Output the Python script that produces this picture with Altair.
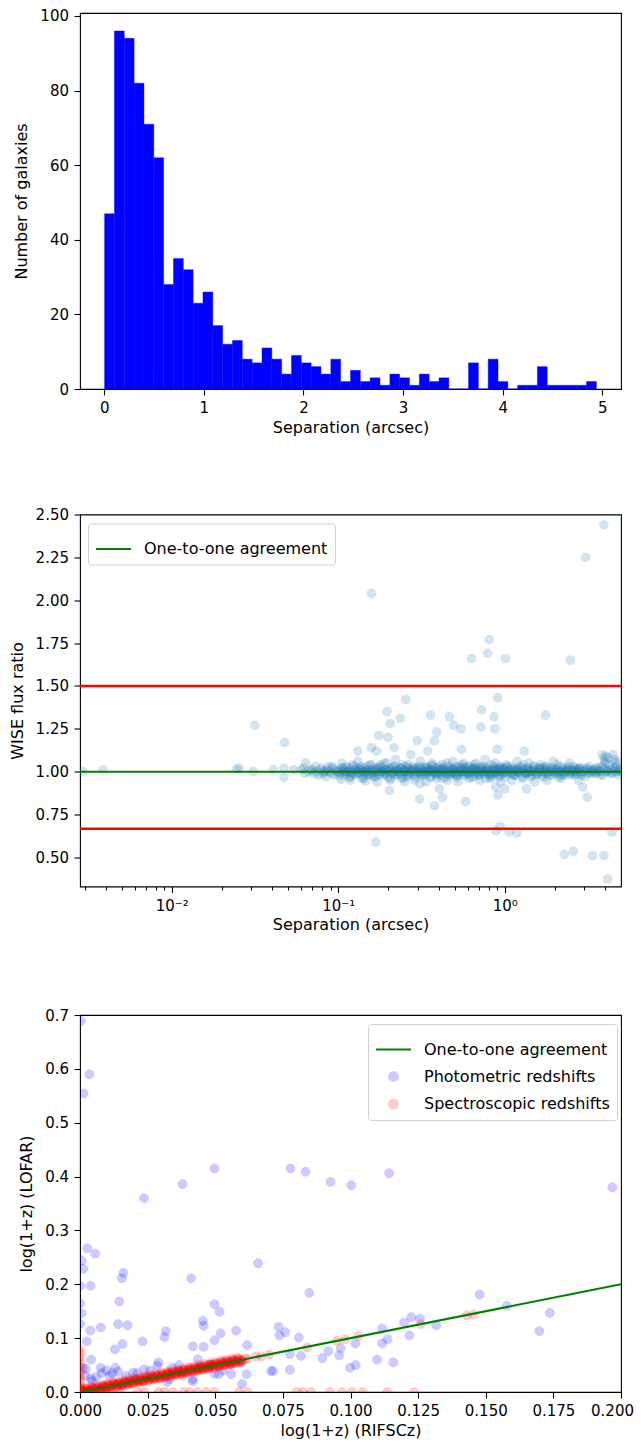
import altair as alt
import pandas as pd

FONT = "DejaVu Sans"

# ---------------- Panel 1: histogram of separations ----------------
hist_counts = [47, 96, 94, 82, 71, 62, 28, 35, 32, 23,
               26, 17, 12, 13, 8, 7, 11, 8, 4, 9,
               7, 6, 4, 8, 2, 5, 2, 3, 1, 4,
               3, 1, 4, 2, 3, 0, 0, 7, 0, 8,
               2, 0, 1, 1, 6, 1, 1, 1, 1, 2]
hist_lo = 0.004
hist_hi = 4.94
hist_xticks = [0, 1, 2, 3, 4, 5]
hist_yticks = [0, 20, 40, 60, 80, 100]

# ---------------- Panel 2: WISE flux ratio vs separation ----------------
band_a_sep = [0.062, 0.066, 0.069, 0.071, 0.073, 0.074, 0.076, 0.078, 0.079, 0.081,
              0.083, 0.084, 0.086, 0.087, 0.089, 0.091, 0.092, 0.094, 0.096, 0.098]
band_a_ratio = [1.02, 1.00, 1.01, 0.99, 1.03, 1.00, 0.98, 1.01, 1.02, 0.99,
                1.00, 0.97, 1.01, 1.03, 1.00, 0.99, 1.02, 0.98, 1.01, 1.00]
band_b_sep = [0.100, 0.102, 0.103, 0.105, 0.106, 0.108, 0.109, 0.111, 0.112, 0.114,
              0.115, 0.117, 0.119, 0.120, 0.122, 0.124, 0.126, 0.127, 0.129, 0.131,
              0.133, 0.135, 0.137, 0.139, 0.141, 0.143, 0.146, 0.148, 0.150, 0.152,
              0.155, 0.157, 0.160, 0.162, 0.165, 0.167, 0.170, 0.173, 0.175, 0.178,
              0.181, 0.184, 0.187, 0.190, 0.193, 0.196, 0.199, 0.203, 0.206, 0.209,
              0.213, 0.217, 0.220, 0.224, 0.228, 0.232, 0.236, 0.240, 0.244, 0.248,
              0.252, 0.257, 0.261, 0.266, 0.270, 0.275, 0.280, 0.284, 0.289, 0.295]
band_b_ratio = [1.00, 1.01, 0.99, 1.02, 1.00, 0.98, 1.01, 1.03, 0.99, 1.00,
                1.02, 0.97, 1.01, 1.00, 1.04, 0.99, 1.01, 0.98, 1.02, 1.00,
                0.99, 1.01, 1.03, 0.96, 1.00, 1.02, 0.99, 1.01, 1.00, 0.98,
                1.01, 1.04, 0.99, 1.00, 1.02, 0.97, 1.01, 1.00, 0.99, 1.03,
                1.00, 1.02, 0.98, 1.01, 0.99, 1.05, 1.00, 1.01, 0.96, 1.02,
                0.99, 1.00, 1.03, 1.01, 0.98, 1.00, 1.02, 0.99, 1.04, 1.01,
                1.00, 0.97, 1.02, 1.00, 0.99, 1.01, 1.03, 0.98, 1.00, 1.02]
band_c_sep = [0.300, 0.304, 0.309, 0.313, 0.318, 0.322, 0.327, 0.332, 0.337, 0.341,
              0.346, 0.351, 0.357, 0.362, 0.367, 0.372, 0.378, 0.383, 0.389, 0.395,
              0.400, 0.406, 0.412, 0.418, 0.425, 0.431, 0.437, 0.444, 0.450, 0.457,
              0.464, 0.471, 0.478, 0.485, 0.492, 0.499, 0.507, 0.514, 0.522, 0.530,
              0.538, 0.546, 0.554, 0.562, 0.571, 0.579, 0.588, 0.597, 0.606, 0.615,
              0.624, 0.633, 0.643, 0.652, 0.662, 0.672, 0.682, 0.692, 0.702, 0.713,
              0.724, 0.734, 0.745, 0.757, 0.768, 0.779, 0.791, 0.803, 0.815, 0.827,
              0.840, 0.852, 0.865, 0.878, 0.891, 0.905, 0.918, 0.932, 0.946, 0.960,
              0.975, 0.989, 0.352, 0.418, 0.497, 0.561, 0.648, 0.731, 0.822, 0.915]
band_c_ratio = [1.01, 0.99, 1.00, 1.02, 0.98, 1.01, 1.00, 1.03, 0.99, 1.00,
                1.02, 1.00, 0.97, 1.01, 1.04, 0.99, 1.00, 1.02, 0.98, 1.01,
                1.00, 1.03, 0.99, 1.01, 0.96, 1.00, 1.02, 0.99, 1.05, 1.01,
                1.00, 0.98, 1.02, 1.00, 1.01, 0.99, 1.03, 0.97, 1.00, 1.02,
                0.99, 1.01, 1.04, 1.00, 0.98, 1.02, 1.00, 0.99, 1.01, 1.03,
                0.97, 1.00, 1.02, 0.99, 1.01, 1.05, 1.00, 0.98, 1.02, 1.00,
                1.01, 0.99, 1.03, 1.00, 0.96, 1.02, 1.01, 0.99, 1.00, 1.04,
                0.98, 1.01, 1.00, 1.02, 0.99, 1.01, 0.97, 1.03, 1.00, 1.01,
                0.99, 1.02, 1.00, 1.01, 0.99, 1.00, 1.02, 1.00, 0.99, 1.01]
band_d_sep = [1.00, 1.02, 1.04, 1.06, 1.09, 1.11, 1.13, 1.16, 1.18, 1.21,
              1.23, 1.26, 1.29, 1.31, 1.34, 1.37, 1.40, 1.43, 1.46, 1.49,
              1.52, 1.56, 1.59, 1.63, 1.66, 1.70, 1.74, 1.77, 1.81, 1.85,
              1.89, 1.94, 1.98, 2.02, 2.07, 2.11, 2.16, 2.21, 2.26, 2.31,
              2.36, 2.41, 2.47, 2.52, 2.58, 2.64, 2.70, 2.76, 2.82, 2.88,
              2.95, 3.01, 3.08, 3.15, 3.22, 3.29, 3.37, 3.44, 3.52, 3.60,
              3.68, 3.76, 3.85, 3.93, 4.02, 4.11, 4.20, 4.30, 4.39, 4.49,
              4.59, 4.70, 4.80, 4.90, 1.12, 1.38, 1.71, 2.12, 2.63, 3.95]
band_d_ratio = [1.00, 1.02, 0.99, 1.01, 1.03, 1.00, 0.98, 1.01, 1.00, 1.02,
                0.99, 1.01, 1.04, 1.00, 0.99, 1.02, 1.00, 0.97, 1.01, 1.03,
                1.00, 0.99, 1.02, 1.01, 0.98, 1.00, 1.03, 0.99, 1.01, 1.00,
                1.02, 0.98, 1.00, 1.01, 1.04, 0.99, 1.00, 1.02, 0.99, 1.01,
                1.00, 1.03, 0.98, 1.01, 1.00, 1.02, 0.99, 1.01, 1.00, 0.98,
                1.02, 1.00, 1.01, 0.99, 1.03, 1.00, 1.01, 0.99, 1.02, 1.00,
                1.01, 0.98, 1.00, 1.02, 1.05, 1.00, 1.08, 1.01, 0.99, 1.10,
                1.02, 1.00, 1.06, 1.01, 1.01, 0.99, 1.02, 1.00, 1.01, 1.08]
band_e_sep = [0.101, 0.107, 0.113, 0.118, 0.123, 0.128, 0.132, 0.136, 0.140, 0.145,
              0.149, 0.153, 0.158, 0.163, 0.168, 0.171, 0.176, 0.180, 0.185, 0.189,
              0.194, 0.198, 0.204, 0.208, 0.214, 0.219, 0.225, 0.231, 0.237, 0.242,
              0.249, 0.255, 0.262, 0.268, 0.276, 0.283, 0.291, 0.298, 0.306, 0.315,
              0.323, 0.332, 0.341, 0.350, 0.360, 0.369, 0.380, 0.390, 0.401, 0.412,
              0.423, 0.435, 0.447, 0.459, 0.471, 0.484, 0.497, 0.510, 0.524, 0.539]
band_e_ratio = [0.98, 1.02, 1.00, 0.97, 1.03, 1.01, 0.99, 1.02, 0.98, 1.00,
                1.03, 0.99, 1.01, 0.97, 1.00, 1.02, 0.98, 1.04, 1.00, 0.99,
                1.01, 0.97, 1.02, 1.00, 1.03, 0.98, 1.01, 0.99, 1.02, 0.97,
                1.00, 1.03, 0.98, 1.01, 1.00, 1.02, 0.97, 1.01, 1.03, 0.99,
                1.00, 0.98, 1.02, 1.01, 0.97, 1.03, 1.00, 0.99, 1.02, 0.98,
                1.01, 1.00, 0.97, 1.03, 0.99, 1.01, 1.02, 0.98, 1.00, 1.03]
band_f_sep = [0.553, 0.567, 0.582, 0.598, 0.613, 0.629, 0.646, 0.663, 0.681, 0.699,
              0.717, 0.736, 0.756, 0.776, 0.796, 0.817, 0.839, 0.861, 0.884, 0.908,
              0.932, 0.956, 0.982, 1.008, 1.035, 1.062, 1.090, 1.119, 1.149, 1.180,
              1.211, 1.243, 1.276, 1.310, 1.345, 1.381, 1.417, 1.455, 1.494, 1.534,
              1.575, 1.617, 1.660, 1.704, 1.749, 1.796, 1.844, 1.893, 1.943, 1.995,
              2.048, 2.103, 2.159, 2.216, 2.275, 2.336, 2.398, 2.462, 2.528, 2.595,
              2.664, 2.735, 2.808, 2.883, 2.960, 3.039, 3.120, 3.203, 3.288, 3.376]
band_f_ratio = [1.02, 0.98, 1.00, 1.03, 0.99, 1.01, 0.97, 1.02, 1.00, 0.98,
                1.03, 1.01, 0.99, 1.00, 1.02, 0.97, 1.01, 1.03, 0.99, 1.00,
                0.98, 1.02, 1.01, 0.97, 1.03, 1.00, 0.99, 1.02, 0.98, 1.01,
                1.00, 1.03, 0.97, 1.01, 0.99, 1.02, 1.00, 0.98, 1.03, 1.01,
                0.99, 1.00, 1.02, 0.97, 1.01, 1.03, 0.98, 1.00, 1.02, 0.99,
                1.01, 0.97, 1.03, 1.00, 0.98, 1.02, 1.01, 0.99, 1.00, 1.03,
                0.98, 1.01, 1.02, 0.99, 1.00, 0.97, 1.02, 1.01, 0.99, 1.00]
band_g_sep = [3.45, 3.53, 3.62, 3.71, 3.80, 3.89, 3.98, 4.07, 4.16, 4.25,
              4.34, 4.43, 4.52, 4.61, 4.70, 4.79, 4.88, 4.95, 4.05, 4.62]
band_g_ratio = [1.01, 0.99, 1.02, 1.00, 1.03, 0.98, 1.06, 1.01, 1.00, 1.04,
                0.99, 1.02, 1.07, 1.00, 1.03, 0.98, 1.01, 1.00, 1.09, 1.05]
band_h_sep = [0.105, 0.118, 0.131, 0.142, 0.155, 0.171, 0.188, 0.205, 0.221, 0.243,
              0.262, 0.287, 0.311, 0.336, 0.364, 0.392, 0.421, 0.452, 0.488, 0.523,
              0.566, 0.612, 0.655, 0.707, 0.762, 0.818, 0.877, 0.943, 1.02, 1.10,
              1.19, 1.28, 1.39, 1.51, 1.64, 1.79, 1.96, 2.18, 2.45, 2.77]
band_h_ratio = [1.05, 0.95, 1.06, 0.96, 1.04, 0.94, 1.05, 0.95, 1.07, 0.96,
                1.04, 0.95, 1.06, 0.94, 1.05, 0.96, 1.04, 0.95, 1.06, 0.94,
                1.05, 0.96, 1.04, 0.95, 1.07, 0.96, 1.05, 0.94, 1.04, 0.95,
                1.06, 0.96, 1.05, 0.94, 1.04, 0.95, 1.06, 0.96, 1.05, 0.95]
band_i_sep = [0.110, 0.121, 0.134, 0.147, 0.161, 0.174, 0.183, 0.196, 0.211, 0.226,
              0.239, 0.253, 0.268, 0.282, 0.297, 0.314, 0.331, 0.348, 0.366, 0.384,
              0.404, 0.426, 0.448, 0.469, 0.493, 0.517, 0.544, 0.571, 0.601, 0.631,
              0.664, 0.697, 0.733, 0.771, 0.809, 0.851, 0.894, 0.939, 0.987, 1.037,
              1.091, 1.146, 1.204, 1.266, 1.330, 1.398, 1.469, 1.545, 1.623, 1.706,
              1.793, 1.885, 1.981, 2.082, 2.189, 2.300, 2.418, 2.541, 2.671, 2.808]
band_i_ratio = [1.00, 0.99, 1.01, 1.00, 0.98, 1.02, 1.00, 1.01, 0.99, 1.00,
                1.02, 1.00, 0.99, 1.01, 1.00, 0.98, 1.02, 1.00, 1.01, 0.99,
                1.00, 1.02, 0.99, 1.00, 1.01, 0.98, 1.00, 1.02, 0.99, 1.01,
                1.00, 0.99, 1.02, 1.00, 0.98, 1.01, 1.00, 1.02, 0.99, 1.00,
                1.01, 0.98, 1.00, 1.02, 0.99, 1.01, 1.00, 0.98, 1.02, 1.00,
                0.99, 1.01, 1.00, 1.02, 0.98, 1.00, 1.01, 0.99, 1.00, 1.02]
outlier_sep = [0.0029, 0.00386, 0.0245, 0.0254, 0.0315, 0.0308, 0.0476, 0.0407, 0.0471, 0.0471,
               0.054, 0.060, 0.0636, 0.063, 0.0697, 0.0818, 0.0918, 0.104,
               0.158, 3.06, 3.93, 0.807, 0.789, 0.632, 1.01, 2.48,
               0.254, 0.196, 0.906, 0.726, 1.76, 0.358, 0.861, 0.465, 0.205, 0.236,
               0.494, 0.546, 0.72, 0.873, 0.391, 0.175, 0.199, 0.298, 0.378, 0.216,
               0.158, 0.131, 0.55, 0.90, 0.345, 1.31, 0.272, 3.84, 0.17,
               0.146, 0.203, 0.308, 0.378, 0.423, 0.581, 0.405, 0.91, 1.0, 1.35,
               2.94, 3.13, 0.25, 0.31, 0.88,
               0.168, 0.885, 0.94, 1.06, 1.18, 4.4, 2.28, 2.58, 3.36, 3.94, 4.15]
outlier_ratio = [1.00, 1.01, 1.015, 1.02, 1.27, 1.00, 1.17, 1.01, 1.02, 0.967,
                 1.01, 1.01, 1.05, 0.99, 1.01, 1.00, 1.03, 0.955,
                 2.04, 2.25, 2.44, 1.77, 1.69, 1.66, 1.66, 1.65,
                 1.42, 1.35, 1.43, 1.36, 1.33, 1.33, 1.32, 1.32, 1.28, 1.31,
                 1.27, 1.25, 1.26, 1.25, 1.23, 1.21, 1.20, 1.18, 1.18, 1.14,
                 1.14, 1.12, 1.13, 1.13, 1.12, 1.12, 1.10, 1.10, 1.12,
                 0.946, 0.89, 0.84, 0.80, 0.85, 0.825, 0.90, 0.864, 0.90, 0.90,
                 0.91, 0.85, 0.94, 0.93, 0.91,
                 0.59, 0.654, 0.68, 0.648, 0.642, 0.648, 0.516, 0.535, 0.51, 0.51, 0.374]
limit_ratios = [1.5, 0.6667]
one_ratio = [1.0]
sep_major_ticks = [0.01, 0.1, 1]
sep_minor_ticks = [0.003, 0.004, 0.005, 0.006, 0.007, 0.008, 0.009,
                   0.02, 0.03, 0.04, 0.05, 0.06, 0.07, 0.08, 0.09,
                   0.2, 0.3, 0.4, 0.5, 0.6, 0.7, 0.8, 0.9,
                   2, 3, 4]
ratio_ticks = [0.5, 0.75, 1.0, 1.25, 1.5, 1.75, 2.0, 2.25, 2.5]

# ---------------- Panel 3: log(1+z) comparison ----------------
phot_x = [0.0003, 0.0035, 0.0013, 0.0237, 0.0379, 0.0497, 0.0778, 0.0834, 0.0926, 0.1003,
          0.1143, 0.1968, 0.0027, 0.0056, 0.0006, 0.0012, 0.0000, 0.0039, 0.0658, 0.0411,
          0.0848, 0.0160, 0.0155, 0.0145, 0.0000, 0.0006, 0.0000, 0.0038, 0.0077, 0.0025,
          0.0141, 0.0176, 0.0129, 0.0157, 0.0231, 0.0317, 0.0312, 0.0454, 0.0457, 0.0497,
          0.0516, 0.0497, 0.0520, 0.0577, 0.0417, 0.0457, 0.0618, 0.0734, 0.0759, 0.0737,
          0.0809, 0.0776, 0.0817, 0.0776, 0.0706, 0.0714, 0.0041, 0.0022, 0.0076, 0.0098,
          0.0141, 0.0120, 0.0196, 0.0237, 0.0290, 0.0286, 0.0365, 0.0436, 0.0417, 0.0417,
          0.0322, 0.0332, 0.0497, 0.0513, 0.0559, 0.0599, 0.0616, 0.0590, 0.0040, 0.0045,
          0.0010, 0.0020, 0.0060, 0.0080, 0.0110, 0.0130, 0.0170, 0.0210, 0.0260, 0.0340,
          0.0380, 0.0440, 0.0480, 0.0530, 0.0560, 0.1477, 0.1578, 0.1737, 0.1698, 0.1317,
          0.1225, 0.1198, 0.1257, 0.1218, 0.1117, 0.1137, 0.1117, 0.1098, 0.1158, 0.1018,
          0.0964, 0.0918, 0.0958, 0.0896, 0.0998, 0.1019]
phot_y = [0.689, 0.590, 0.554, 0.360, 0.386, 0.415, 0.415, 0.409, 0.390, 0.384,
          0.406, 0.380, 0.267, 0.257, 0.244, 0.229, 0.197, 0.197, 0.239, 0.211,
          0.184, 0.221, 0.211, 0.168, 0.165, 0.146, 0.126, 0.114, 0.120, 0.094,
          0.126, 0.124, 0.079, 0.089, 0.094, 0.113, 0.102, 0.132, 0.123, 0.163,
          0.149, 0.096, 0.109, 0.114, 0.085, 0.084, 0.087, 0.121, 0.111, 0.105,
          0.101, 0.070, 0.067, 0.041, 0.039, 0.039, 0.060, 0.043, 0.045, 0.040,
          0.038, 0.035, 0.036, 0.042, 0.055, 0.049, 0.050, 0.061, 0.024, 0.020,
          0.019, 0.024, 0.034, 0.033, 0.033, 0.015, 0.033, 0.055, 0.025, 0.020,
          0.045, 0.030, 0.028, 0.035, 0.030, 0.045, 0.030, 0.035, 0.040, 0.045,
          0.030, 0.045, 0.050, 0.040, 0.050, 0.181, 0.160, 0.147, 0.113, 0.124,
          0.139, 0.129, 0.136, 0.105, 0.118, 0.098, 0.090, 0.060, 0.055, 0.090,
          0.081, 0.076, 0.068, 0.063, 0.045, 0.050]
spec_line_x = [0.000, 0.001, 0.001, 0.002, 0.002, 0.003, 0.004, 0.004, 0.005, 0.006,
               0.006, 0.007, 0.008, 0.008, 0.009, 0.010, 0.010, 0.011, 0.012, 0.012,
               0.013, 0.014, 0.014, 0.015, 0.016, 0.016, 0.017, 0.018, 0.018, 0.019,
               0.020, 0.020, 0.021, 0.022, 0.022, 0.023, 0.024, 0.024, 0.025, 0.026,
               0.026, 0.027, 0.028, 0.028, 0.029, 0.030, 0.030, 0.031, 0.032, 0.032,
               0.033, 0.034, 0.034, 0.035, 0.036, 0.036, 0.037, 0.038, 0.038, 0.039,
               0.040, 0.040, 0.041, 0.042, 0.042, 0.043, 0.044, 0.044, 0.045, 0.046,
               0.046, 0.047, 0.048, 0.048, 0.049, 0.050, 0.050, 0.051, 0.052, 0.052,
               0.053, 0.054, 0.054, 0.055, 0.056, 0.056, 0.057, 0.058, 0.059, 0.060,
               0.061, 0.062, 0.065, 0.067, 0.070, 0.084, 0.095, 0.098, 0.103, 0.126,
               0.143, 0.1455]
spec_line_y = [0.003, 0.000, 0.004, 0.002, 0.006, 0.001, 0.005, 0.003, 0.007, 0.004,
               0.008, 0.005, 0.010, 0.006, 0.011, 0.008, 0.012, 0.009, 0.014, 0.010,
               0.015, 0.012, 0.016, 0.013, 0.018, 0.014, 0.019, 0.016, 0.020, 0.017,
               0.022, 0.018, 0.023, 0.020, 0.024, 0.021, 0.026, 0.022, 0.027, 0.024,
               0.028, 0.025, 0.030, 0.026, 0.031, 0.028, 0.032, 0.029, 0.034, 0.030,
               0.035, 0.032, 0.036, 0.033, 0.038, 0.034, 0.039, 0.036, 0.040, 0.037,
               0.042, 0.038, 0.043, 0.040, 0.044, 0.041, 0.046, 0.042, 0.047, 0.044,
               0.048, 0.045, 0.050, 0.046, 0.051, 0.048, 0.052, 0.049, 0.054, 0.050,
               0.055, 0.052, 0.056, 0.053, 0.058, 0.054, 0.059, 0.056, 0.060, 0.058,
               0.062, 0.061, 0.066, 0.066, 0.070, 0.083, 0.095, 0.098, 0.104, 0.126,
               0.142, 0.144]
spec_line2_x = [0.0005, 0.0015, 0.0025, 0.0035, 0.0045, 0.0055, 0.0065, 0.0075, 0.0085, 0.0095,
                0.0105, 0.0115, 0.0125, 0.0135, 0.0145, 0.0155, 0.0165, 0.0175, 0.0185, 0.0195,
                0.0205, 0.0215, 0.0225, 0.0235, 0.0245, 0.0255, 0.0265, 0.0275, 0.0285, 0.0295,
                0.0305, 0.0315, 0.0325, 0.0335, 0.0345, 0.0355, 0.0365, 0.0375, 0.0385, 0.0395,
                0.0405, 0.0415, 0.0425, 0.0435, 0.0445, 0.0455, 0.0465, 0.0475, 0.0485, 0.0495,
                0.0505, 0.0515, 0.0525, 0.0535, 0.0545, 0.0555, 0.0565, 0.0575, 0.0585, 0.0595]
spec_line2_y = [0.004, 0.000, 0.006, 0.001, 0.008, 0.003, 0.009, 0.004, 0.011, 0.006,
                0.013, 0.008, 0.015, 0.010, 0.017, 0.012, 0.019, 0.014, 0.021, 0.016,
                0.023, 0.018, 0.025, 0.020, 0.027, 0.022, 0.029, 0.024, 0.031, 0.026,
                0.033, 0.028, 0.035, 0.030, 0.037, 0.032, 0.039, 0.034, 0.041, 0.036,
                0.043, 0.038, 0.045, 0.040, 0.047, 0.042, 0.049, 0.044, 0.051, 0.046,
                0.053, 0.048, 0.055, 0.050, 0.057, 0.052, 0.059, 0.054, 0.061, 0.056]
spec_line3_x = [0.0002, 0.0012, 0.0022, 0.0032, 0.0042, 0.0052, 0.0062, 0.0072, 0.0082, 0.0092,
                0.0102, 0.0112, 0.0122, 0.0132, 0.0142, 0.0152, 0.0162, 0.0172, 0.0182, 0.0192,
                0.0202, 0.0212, 0.0222, 0.0232, 0.0242, 0.0252, 0.0262, 0.0272, 0.0282, 0.0292,
                0.0302, 0.0312, 0.0322, 0.0332, 0.0342, 0.0352, 0.0362, 0.0372, 0.0382, 0.0392,
                0.0402, 0.0412, 0.0422, 0.0432, 0.0442, 0.0452, 0.0462, 0.0472, 0.0482, 0.0492,
                0.0502, 0.0512, 0.0522, 0.0532, 0.0542, 0.0552, 0.0562, 0.0572, 0.0582, 0.0592]
spec_line3_y = [0.006, 0.000, 0.008, 0.000, 0.010, 0.001, 0.012, 0.003, 0.014, 0.005,
                0.016, 0.007, 0.018, 0.009, 0.020, 0.011, 0.022, 0.013, 0.024, 0.015,
                0.026, 0.017, 0.028, 0.019, 0.030, 0.021, 0.032, 0.023, 0.034, 0.025,
                0.036, 0.027, 0.038, 0.029, 0.040, 0.031, 0.042, 0.033, 0.044, 0.035,
                0.046, 0.037, 0.048, 0.039, 0.050, 0.041, 0.052, 0.043, 0.054, 0.045,
                0.056, 0.047, 0.058, 0.049, 0.060, 0.051, 0.062, 0.053, 0.064, 0.055]
spec_line4_x = [0.0008, 0.0018, 0.0028, 0.0038, 0.0048, 0.0058, 0.0068, 0.0078, 0.0088, 0.0098,
                0.0108, 0.0118, 0.0128, 0.0138, 0.0148, 0.0158, 0.0168, 0.0178, 0.0188, 0.0198,
                0.0208, 0.0218, 0.0228, 0.0238, 0.0248, 0.0258, 0.0268, 0.0278, 0.0288, 0.0298,
                0.0308, 0.0318, 0.0328, 0.0338, 0.0348, 0.0358, 0.0368, 0.0378, 0.0388, 0.0398,
                0.0408, 0.0418, 0.0428, 0.0438, 0.0448, 0.0458, 0.0468, 0.0478, 0.0488, 0.0498,
                0.0508, 0.0518, 0.0528, 0.0538, 0.0548, 0.0558, 0.0568, 0.0578, 0.0588, 0.0598]
spec_line4_y = [0.002, 0.001, 0.004, 0.003, 0.006, 0.005, 0.008, 0.007, 0.010, 0.009,
                0.012, 0.011, 0.014, 0.013, 0.016, 0.015, 0.018, 0.017, 0.020, 0.019,
                0.022, 0.021, 0.024, 0.023, 0.026, 0.025, 0.028, 0.027, 0.030, 0.029,
                0.032, 0.031, 0.034, 0.033, 0.036, 0.035, 0.038, 0.037, 0.040, 0.039,
                0.042, 0.041, 0.044, 0.043, 0.046, 0.045, 0.048, 0.047, 0.050, 0.049,
                0.052, 0.051, 0.054, 0.053, 0.056, 0.055, 0.058, 0.057, 0.060, 0.059]
spec_zero_x_y = [0.079, 0.072, 0.064, 0.055, 0.047, 0.039, 0.031, 0.024, 0.017, 0.011, 0.005]
spec_zero_y_x = [0.0032, 0.0085, 0.0147, 0.0214, 0.0238, 0.0291, 0.0313, 0.0344, 0.0383, 0.0405,
                 0.0434, 0.0466, 0.0497, 0.0588, 0.0619, 0.0801, 0.0824, 0.0854, 0.0923, 0.0969,
                 0.1005, 0.1045, 0.1136, 0.1235]
one_to_one = [0.0, 0.2]
z_xticks = [0.0, 0.025, 0.05, 0.075, 0.1, 0.125, 0.15, 0.175, 0.2]
z_yticks = [0.0, 0.1, 0.2, 0.3, 0.4, 0.5, 0.6, 0.7]

ONE = "One-to-one agreement"
PHOT = "Photometric redshifts"
SPEC = "Spectroscopic redshifts"
KINDS = [ONE, PHOT, SPEC]
W = 541

# ---------------- build panel 1 ----------------
hist_w = (hist_hi - hist_lo) / len(hist_counts)
df_hist = pd.DataFrame({
    "start": [hist_lo + i * hist_w for i in range(len(hist_counts))],
    "end": [hist_lo + (i + 1) * hist_w for i in range(len(hist_counts))],
    "count": hist_counts,
})
p1 = alt.Chart(df_hist).mark_rect(color="#0000ff", stroke="#0000ff", strokeWidth=0.4).encode(
    x=alt.X("start:Q", scale=alt.Scale(domain=[-0.243, 5.187], nice=False, zero=False),
            axis=alt.Axis(values=hist_xticks, format="d", title="Separation (arcsec)")),
    x2="end:Q",
    y=alt.Y("count:Q", scale=alt.Scale(domain=[0, 100.8], nice=False),
            axis=alt.Axis(values=hist_yticks, format="d", title="Number of galaxies")),
    y2=alt.datum(0),
).properties(width=W, height=376)

# ---------------- build panel 2 ----------------
sep_all = (band_a_sep + band_b_sep + band_c_sep + band_d_sep + band_e_sep + band_f_sep
           + band_g_sep + band_h_sep + band_i_sep + outlier_sep)
ratio_all = (band_a_ratio + band_b_ratio + band_c_ratio + band_d_ratio + band_e_ratio
             + band_f_ratio + band_g_ratio + band_h_ratio + band_i_ratio + outlier_ratio)
df2 = pd.DataFrame({"sep": sep_all, "ratio": ratio_all})
x2s = alt.Scale(type="log", domain=[0.00281, 4.99], nice=False)
y2s = alt.Scale(domain=[0.33, 2.5], nice=False, zero=False)
major_test = "datum.value == 0.01 || datum.value == 0.1 || datum.value == 1"
x2axis = alt.Axis(
    values=sep_minor_ticks + sep_major_ticks,
    labelExpr="datum.value == 0.01 ? '10\u207b\u00b2' : datum.value == 0.1 ? '10\u207b\u00b9' : datum.value == 1 ? '10\u2070' : ''",
    tickSize={"condition": {"test": major_test, "value": 6}, "value": 3.5},
    title="Separation (arcsec)",
)
y2axis = alt.Axis(values=ratio_ticks, format=".2f", title="WISE flux ratio")
pts2 = alt.Chart(df2).mark_circle(size=95, color="#1f77b4", opacity=0.2, clip=True).encode(
    x=alt.X("sep:Q", scale=x2s, axis=x2axis),
    y=alt.Y("ratio:Q", scale=y2s, axis=y2axis),
)
leg2 = alt.Legend(
    title=None, orient="none", legendX=8, legendY=9,
    labelFont=FONT, labelFontSize=16, labelColor="black", labelOffset=12, labelLimit=400,
    symbolType="stroke", symbolSize=1225, symbolStrokeWidth=2,
    padding=7, strokeColor="#d0d0d0", fillColor="white", cornerRadius=3,
)
green2 = alt.Chart(pd.DataFrame({"ratio": one_ratio, "kind": [ONE]})).mark_rule(strokeWidth=2).encode(
    y=alt.Y("ratio:Q", scale=y2s, axis=y2axis),
    color=alt.Color("kind:N", scale=alt.Scale(domain=[ONE], range=["#008000"]), legend=leg2),
)
red2 = alt.Chart(pd.DataFrame({"ratio": limit_ratios})).mark_rule(strokeWidth=2.6, color="#ff0000").encode(
    y=alt.Y("ratio:Q", scale=y2s, axis=y2axis),
)
p2 = alt.layer(pts2, green2, red2).properties(width=W, height=372)

# ---------------- build panel 3 ----------------
spec_x = (spec_line_x + spec_line2_x + spec_line3_x + spec_line4_x
          + [0.0 for _ in spec_zero_x_y] + spec_zero_y_x)
spec_y = (spec_line_y + spec_line2_y + spec_line3_y + spec_line4_y
          + spec_zero_x_y + [0.0 for _ in spec_zero_y_x])
df3 = pd.DataFrame({
    "rif": phot_x + spec_x,
    "lofar": phot_y + spec_y,
    "kind": [PHOT] * len(phot_x) + [SPEC] * len(spec_x),
})
df3_line = pd.DataFrame({"rif": one_to_one, "lofar": one_to_one, "kind": [ONE, ONE]})
x3s = alt.Scale(domain=[0, 0.2], nice=False, zero=False)
y3s = alt.Scale(domain=[0, 0.7], nice=False, zero=False)
x3axis = alt.Axis(
    values=z_xticks, format=".3f", title="log(1+z) (RIFSCz)",
    labelOffset={"condition": {"test": "datum.value == 0.2", "value": -9}, "value": 0},
)
y3axis = alt.Axis(values=z_yticks, format=".1f", title="log(1+z) (LOFAR)")
col3 = alt.Scale(domain=KINDS, range=["#008000", "#0000ff", "#ff0000"])
shp3 = alt.Scale(type="ordinal", domain=KINDS, range=["stroke", "circle", "circle"])
siz3 = alt.Scale(type="ordinal", domain=KINDS, range=[1225, 80, 80])
opa3 = alt.Scale(type="ordinal", domain=KINDS, range=[1.0, 0.2, 0.2])
leg3 = alt.Legend(
    title=None, orient="none", legendX=288, legendY=9,
    labelFont=FONT, labelFontSize=16, labelColor="black", labelOffset=12, labelLimit=400,
    symbolStrokeWidth=2, rowPadding=9.5,
    padding=7, strokeColor="#d0d0d0", fillColor="white", cornerRadius=3,
)
pts3 = alt.Chart(df3).mark_point(filled=True, clip=True, strokeWidth=1).encode(
    x=alt.X("rif:Q", scale=x3s, axis=x3axis),
    y=alt.Y("lofar:Q", scale=y3s, axis=y3axis),
    color=alt.Color("kind:N", scale=col3, legend=leg3),
    stroke=alt.Stroke("kind:N", scale=col3, legend=leg3),
    shape=alt.Shape("kind:N", scale=shp3, legend=leg3),
    size=alt.Size("kind:N", scale=siz3, legend=leg3),
    opacity=alt.Opacity("kind:N", scale=opa3, legend=leg3),
)
line3 = alt.Chart(df3_line).mark_line(strokeWidth=2, clip=True).encode(
    x=alt.X("rif:Q", scale=x3s, axis=x3axis),
    y=alt.Y("lofar:Q", scale=y3s, axis=y3axis),
    color=alt.Color("kind:N", scale=col3, legend=leg3),
)
p3 = alt.layer(pts3, line3).properties(width=W, height=377)

CH = ["color", "stroke", "shape", "size", "opacity"]
res = {c: "independent" for c in CH}

lower = alt.vconcat(p2, p3, spacing=73.5).resolve_scale(**res).resolve_legend(**res)
chart = (
    alt.vconcat(p1, lower, spacing=70.5)
    .resolve_scale(**res)
    .resolve_legend(**res)
    .properties(padding={"left": 0, "top": 0, "right": 0, "bottom": 0}, background="white")
    .configure_view(stroke="black", strokeWidth=1.1)
    .configure_axis(
        labelFont=FONT, labelFontSize=15, labelColor="black", labelPadding=5.5,
        labelFlush=False, labelOverlap=False,
        titleFont=FONT, titleFontSize=16, titleFontWeight="normal", titleColor="black",
        tickColor="black", tickSize=6, tickWidth=1.1,
        domain=False, grid=False,
    )
    .configure_axisX(titlePadding=3.5)
    .configure_axisY(titlePadding=10)
)

chart.save("out.html", embed_options={"renderer": "svg", "actions": False})
